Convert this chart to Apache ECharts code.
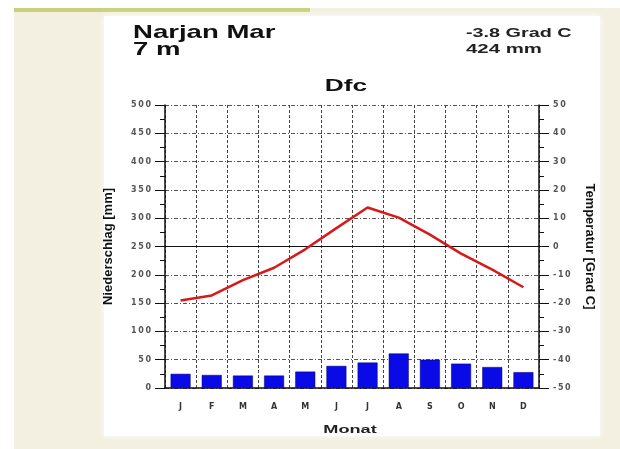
<!DOCTYPE html>
<html><head><meta charset="utf-8">
<script src="https://cdn.jsdelivr.net/npm/echarts@6/dist/echarts.min.js"></script>
<style>html,body{margin:0;padding:0;background:#fff}#c{width:620px;height:449px}</style>
</head><body><div id="c"></div>
<script>
var months = ['J','F','M','A','M','J','J','A','S','O','N','D'];
var precip = [25,23,22,22,29,39,45,61,50,43,37,28];
var temp = [-19.1,-17.3,-11.9,-7.5,-1.0,6.5,13.8,10.2,4.2,-2.5,-8.2,-14.4];
var stationName = 'Narjan Mar';
var elevation = '7 m';
var meanTemp = '-3.8 Grad C';
var totalPrecip = '424 mm';
var climateClass = 'Dfc';

var chart = echarts.init(document.getElementById('c'), null, {renderer:'canvas'});
var F = 'Liberation Sans, Arial, sans-serif';
var FD = 'DejaVu Sans, sans-serif';
var FN = 'Liberation Sans Narrow, Liberation Sans, Arial, sans-serif';
function spaced(v){ return String(v).split('').join('\u2009'); }
function txt(x, y, s, font, sx, align, fill){
  return {type:'text', x:x, y:y, scaleX:sx, z:10,
    style:{text:s, font:font, fill:fill||'#111', align:align||'left', verticalAlign:'top'}};
}
chart.setOption({
  animation:false,
  backgroundColor:'#ffffff',
  graphic:[
    {type:'rect', z:-10, shape:{x:14,y:8,width:606,height:441}, style:{fill:'#f3f0e2'}},
    {type:'rect', z:-9, shape:{x:14,y:8,width:296,height:4}, style:{fill:'#c9d27a'}},
    {type:'rect', z:-8, shape:{x:104,y:16,width:496,height:420}, style:{fill:'#ffffff', shadowBlur:6, shadowColor:'rgba(255,255,255,0.9)'}},
    txt(133, 23, stationName, 'bold 19px '+F, 1.45),
    txt(133, 40, elevation, 'bold 19px '+F, 1.45),
    txt(466, 28, meanTemp, 'bold 12px '+F, 1.65, 'left', '#222'),
    txt(466, 44, totalPrecip, 'bold 12px '+F, 1.7, 'left', '#222'),
    txt(346, 78, climateClass, 'bold 17px '+F, 1.55, 'center'),
    txt(350, 424, 'Monat', 'bold 11px '+F, 1.65, 'center', '#222')
  ],
  grid:{left:165, right:81, top:105, bottom:61},
  xAxis:{
    type:'category', data:months, boundaryGap:true,
    axisLine:{lineStyle:{color:'#111', width:1.5}},
    axisTick:{show:false},
    axisLabel:{margin:15, fontSize:8, fontWeight:'bold', color:'#333', fontFamily:FD},
    splitLine:{show:true, lineStyle:{color:'#444', type:[3,2], width:1}}
  },
  yAxis:[
    {type:'value', min:0, max:500, interval:50, position:'left',
     name:'Niederschlag [mm]', nameLocation:'middle', nameGap:50, nameRotate:90,
     nameTextStyle:{fontSize:13, fontWeight:'bold', color:'#111', fontFamily:FN},
     axisLine:{show:true, lineStyle:{color:'#111', width:1.5}},
     axisTick:{show:true, length:10, inside:false, lineStyle:{color:'#111'}},
     minorTick:{show:true, splitNumber:2, length:5, lineStyle:{color:'#111'}},
     axisLabel:{fontSize:8, color:'#555', fontWeight:'bold', margin:14, fontFamily:FD, formatter:spaced},
     splitLine:{show:true, lineStyle:{color:'#555', type:[4,2,1,2], width:1}}
    },
    {type:'value', min:-50, max:50, interval:10, position:'right',
     name:'Temperatur [Grad C]', nameLocation:'middle', nameGap:44, nameRotate:-90,
     nameTextStyle:{fontSize:13, fontWeight:'bold', color:'#111', fontFamily:FN},
     axisLine:{show:true, lineStyle:{color:'#111', width:1.5}},
     axisTick:{show:true, length:10, lineStyle:{color:'#111'}},
     minorTick:{show:true, splitNumber:2, length:5, lineStyle:{color:'#111'}},
     axisLabel:{fontSize:8, color:'#555', fontWeight:'bold', margin:14, fontFamily:FD, formatter:spaced},
     splitLine:{show:false}
    }
  ],
  series:[
    {type:'bar', yAxisIndex:0, data:precip, barWidth:'64%',
     itemStyle:{color:'#0a0ae6', borderColor:'#00007a', borderWidth:0.5},
     markLine:{silent:true, symbol:'none', label:{show:false},
       lineStyle:{color:'#111', type:'solid', width:1.2}, data:[{yAxis:250}]}
    },
    {type:'line', yAxisIndex:1, data:temp, showSymbol:false, symbol:'none',
     lineStyle:{color:'#d61a1a', width:2.5}, z:5}
  ]
});
</script></body></html>
